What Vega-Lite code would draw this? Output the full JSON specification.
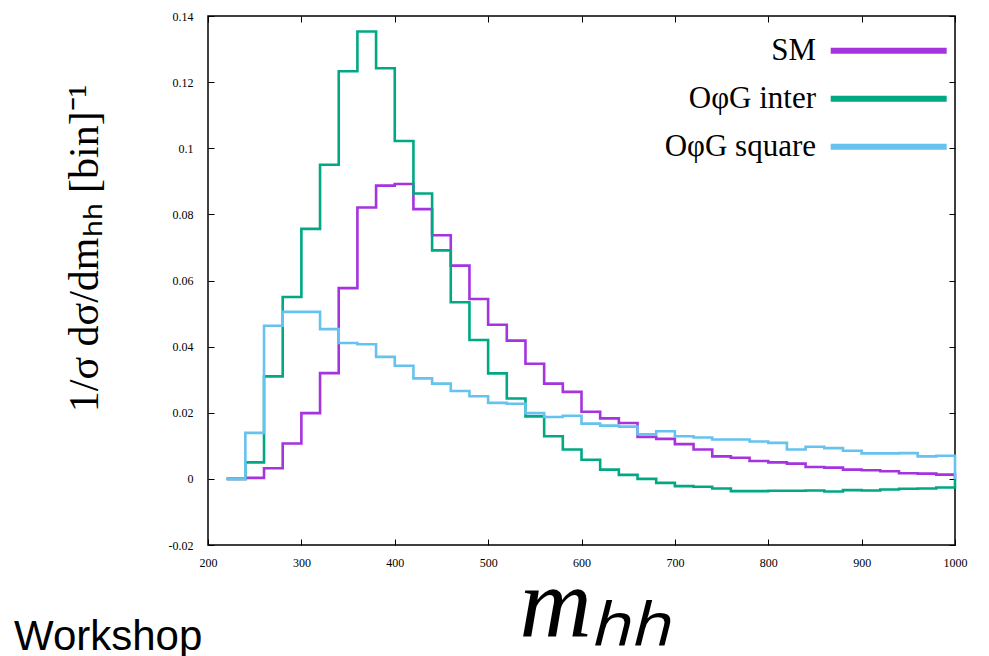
{
  "$schema": "https://vega.github.io/schema/vega-lite/v6.json",
  "width": 747,
  "height": 529,
  "autosize": "none",
  "padding": {"left": 208, "top": 16, "right": 34, "bottom": 111},
  "background": "white",
  "config": {
    "view": {"stroke": "black", "strokeWidth": 1.5},
    "font": "Liberation Serif"
  },
  "title": {
    "text": "Workshop",
    "orient": "bottom",
    "anchor": "start",
    "frame": "group",
    "dx": -194,
    "offset": -38,
    "font": "Liberation Sans",
    "fontSize": 42,
    "fontWeight": "normal",
    "color": "black"
  },
  "data": {
    "values": [
      {"m": 220, "SM": 0, "inter": 0, "square": 0},
      {"m": 240, "SM": 0.0003, "inter": 0.0050, "square": 0.0139},
      {"m": 260, "SM": 0.0032, "inter": 0.0310, "square": 0.0463},
      {"m": 280, "SM": 0.0107, "inter": 0.0550, "square": 0.0505},
      {"m": 300, "SM": 0.0199, "inter": 0.0756, "square": 0.0505},
      {"m": 320, "SM": 0.0320, "inter": 0.0950, "square": 0.0453},
      {"m": 340, "SM": 0.0577, "inter": 0.1233, "square": 0.0411},
      {"m": 360, "SM": 0.0821, "inter": 0.1353, "square": 0.0407},
      {"m": 380, "SM": 0.0887, "inter": 0.1242, "square": 0.0369},
      {"m": 400, "SM": 0.0892, "inter": 0.1022, "square": 0.0342},
      {"m": 420, "SM": 0.0816, "inter": 0.0863, "square": 0.0304},
      {"m": 440, "SM": 0.0737, "inter": 0.0691, "square": 0.0288},
      {"m": 460, "SM": 0.0645, "inter": 0.0534, "square": 0.0266},
      {"m": 480, "SM": 0.0544, "inter": 0.0420, "square": 0.0250},
      {"m": 500, "SM": 0.0466, "inter": 0.0319, "square": 0.0230},
      {"m": 520, "SM": 0.0418, "inter": 0.0243, "square": 0.0227},
      {"m": 540, "SM": 0.0348, "inter": 0.0189, "square": 0.0199},
      {"m": 560, "SM": 0.0288, "inter": 0.0129, "square": 0.0187},
      {"m": 580, "SM": 0.0263, "inter": 0.0089, "square": 0.0191},
      {"m": 600, "SM": 0.0203, "inter": 0.0058, "square": 0.0167},
      {"m": 620, "SM": 0.0183, "inter": 0.0028, "square": 0.0161},
      {"m": 640, "SM": 0.0169, "inter": 0.0012, "square": 0.0158},
      {"m": 660, "SM": 0.0127, "inter": 0.0000, "square": 0.0135},
      {"m": 680, "SM": 0.0121, "inter": -0.0012, "square": 0.0144},
      {"m": 700, "SM": 0.0105, "inter": -0.0022, "square": 0.0129},
      {"m": 720, "SM": 0.0089, "inter": -0.0024, "square": 0.0125},
      {"m": 740, "SM": 0.0068, "inter": -0.0029, "square": 0.0119},
      {"m": 760, "SM": 0.0064, "inter": -0.0037, "square": 0.0119},
      {"m": 780, "SM": 0.0054, "inter": -0.0037, "square": 0.0113},
      {"m": 800, "SM": 0.0050, "inter": -0.0036, "square": 0.0109},
      {"m": 820, "SM": 0.0046, "inter": -0.0036, "square": 0.0089},
      {"m": 840, "SM": 0.0036, "inter": -0.0035, "square": 0.0097},
      {"m": 860, "SM": 0.0034, "inter": -0.0038, "square": 0.0093},
      {"m": 880, "SM": 0.0028, "inter": -0.0034, "square": 0.0085},
      {"m": 900, "SM": 0.0026, "inter": -0.0035, "square": 0.0077},
      {"m": 920, "SM": 0.0023, "inter": -0.0032, "square": 0.0077},
      {"m": 940, "SM": 0.0017, "inter": -0.0030, "square": 0.0078},
      {"m": 960, "SM": 0.0016, "inter": -0.0029, "square": 0.0068},
      {"m": 980, "SM": 0.0013, "inter": -0.0026, "square": 0.0070},
      {"m": 1000, "SM": 0, "inter": 0, "square": 0}
    ]
  },
  "transform": [{"fold": ["SM", "inter", "square"], "as": ["series", "value"]}],
  "resolve": {"axis": {"x": "independent", "y": "independent"}},
  "layer": [
    {
      "mark": {"type": "line", "interpolate": "step-after", "strokeWidth": 2.6},
      "encoding": {
        "x": {
          "field": "m",
          "type": "quantitative",
          "scale": {"domain": [200, 1000], "nice": false, "zero": false},
          "axis": {
            "values": [200, 300, 400, 500, 600, 700, 800, 900, 1000],
            "format": "d",
            "labelFlush": false,
            "grid": false,
            "domain": false,
            "tickColor": "black",
            "tickSize": -6,
            "labelPadding": 18,
            "labelFont": "Liberation Serif",
            "labelFontSize": 12,
            "labelColor": "black",
            "title": "mₕₕ",
            "titleFont": "Liberation Serif",
            "titleFontSize": 100,
            "titleFontStyle": "italic",
            "titleFontWeight": "normal",
            "titleColor": "black",
            "titleX": 387,
            "titlePadding": -12
          }
        },
        "y": {
          "field": "value",
          "type": "quantitative",
          "scale": {"domain": [-0.02, 0.14], "nice": false, "zero": false},
          "axis": {
            "values": [-0.02, 0, 0.02, 0.04, 0.06, 0.08, 0.1, 0.12, 0.14],
            "labelExpr": "datum.value === 0 ? '0' : toString(round(datum.value * 100) / 100)",
            "labelFlush": false,
            "grid": false,
            "domain": false,
            "tickColor": "black",
            "tickSize": -6,
            "labelPadding": 21,
            "labelFont": "Liberation Serif",
            "labelFontSize": 12,
            "labelColor": "black",
            "title": "1/σ dσ/dmₕₕ [bin]⁻¹",
            "titleFont": "Liberation Serif",
            "titleFontSize": 42,
            "titleFontWeight": "normal",
            "titleColor": "black",
            "titleY": 232,
            "titlePadding": 62
          }
        },
        "color": {
          "field": "series",
          "type": "nominal",
          "scale": {"domain": ["SM", "inter", "square"], "range": ["#a533de", "#00a884", "#66c2ee"]},
          "legend": {
            "orient": "none",
            "legendX": 647.7,
            "legendY": 1.7,
            "title": null,
            "symbolType": "M-1.933,0H1.933",
            "symbolSize": 3600,
            "symbolStrokeWidth": 6,
            "symbolOpacity": 1,
            "symbolFillColor": "transparent",
            "rowPadding": 0,
            "labelAlign": "right",
            "labelOffset": -105.7,
            "labelFont": "Liberation Serif",
            "labelFontSize": 31,
            "labelColor": "black",
            "labelLimit": 0,
            "labelExpr": "datum.value == 'SM' ? 'SM' : datum.value == 'inter' ? 'OφG inter' : 'OφG square'"
          }
        }
      }
    },
    {
      "mark": {"type": "line", "opacity": 0},
      "encoding": {
        "x": {
          "field": "m",
          "type": "quantitative",
          "axis": {
            "orient": "top",
            "values": [200, 300, 400, 500, 600, 700, 800, 900, 1000],
            "grid": false,
            "domain": false,
            "labels": false,
            "title": null,
            "tickColor": "black",
            "tickSize": -6
          }
        },
        "y": {
          "field": "value",
          "type": "quantitative",
          "axis": {
            "orient": "right",
            "values": [-0.02, 0, 0.02, 0.04, 0.06, 0.08, 0.1, 0.12, 0.14],
            "grid": false,
            "domain": false,
            "labels": false,
            "title": null,
            "tickColor": "black",
            "tickSize": -6
          }
        }
      }
    }
  ]
}
